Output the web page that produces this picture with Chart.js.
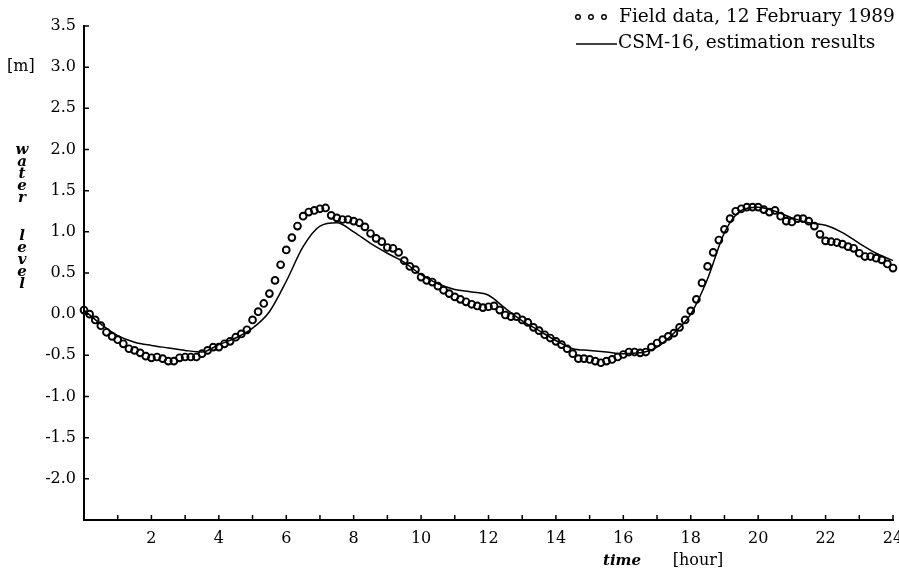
<!DOCTYPE html>
<html><head><meta charset="utf-8">
<script src="https://cdn.jsdelivr.net/npm/chart.js@4/dist/chart.umd.min.js"></script>
<style>html,body{margin:0;padding:0;background:#fff;}#wrap{width:899px;height:573px;}</style>
</head><body><div id="wrap"><canvas id="c" width="899" height="573"></canvas></div>
<script>
// Field data sampled every 10 minutes from 0 h to 24 h
const fieldStartHour = 0;
const fieldStepHours = 1 / 6;
const fieldLevels = [
  0.05, 0.00, -0.07, -0.14, -0.22, -0.27, -0.31, -0.36, -0.42, -0.44, -0.47, -0.51,
  -0.53, -0.52, -0.54, -0.57, -0.57, -0.53, -0.52, -0.52, -0.52, -0.48, -0.44, -0.40,
  -0.40, -0.36, -0.33, -0.28, -0.24, -0.19, -0.07, 0.03, 0.13, 0.25, 0.41, 0.60,
  0.78, 0.93, 1.07, 1.19, 1.24, 1.26, 1.28, 1.29, 1.20, 1.17, 1.15, 1.15,
  1.13, 1.11, 1.06, 0.98, 0.92, 0.88, 0.81, 0.80, 0.75, 0.65, 0.58, 0.54,
  0.45, 0.41, 0.39, 0.34, 0.29, 0.25, 0.21, 0.18, 0.15, 0.12, 0.10, 0.08,
  0.09, 0.10, 0.05, -0.01, -0.03, -0.03, -0.07, -0.10, -0.16, -0.20, -0.25, -0.29,
  -0.33, -0.37, -0.42, -0.48, -0.54, -0.54, -0.55, -0.57, -0.59, -0.57, -0.55, -0.52,
  -0.49, -0.46, -0.46, -0.47, -0.46, -0.40, -0.35, -0.31, -0.27, -0.23, -0.16, -0.07,
  0.04, 0.18, 0.38, 0.58, 0.75, 0.90, 1.03, 1.16, 1.25, 1.28, 1.30, 1.30,
  1.30, 1.27, 1.24, 1.26, 1.19, 1.13, 1.12, 1.16, 1.16, 1.13, 1.07, 0.97,
  0.89, 0.88, 0.87, 0.85, 0.82, 0.80, 0.74, 0.70, 0.70, 0.68, 0.66, 0.61,
  0.56
];
// CSM-16 estimation results
const modelHours = [0,0.5,1,1.5,2,2.5,3,3.5,4,4.5,5,5.5,6,6.5,7,7.5,8,8.5,9,9.5,10,10.5,11,11.5,12,
  12.5,13,13.5,14,14.5,15,15.5,16,16.5,17,17.5,18,18.5,19,19.5,20,20.5,21,21.5,22,22.5,23,23.5,24];
const modelLevels = [0.05,-0.12,-0.26,-0.34,-0.38,-0.41,-0.44,-0.46,-0.37,-0.29,-0.17,0.03,0.40,0.82,1.07,1.11,
  1.00,0.86,0.74,0.63,0.48,0.37,0.30,0.27,0.23,0.07,-0.08,-0.20,-0.32,-0.42,-0.44,-0.46,-0.48,-0.47,
  -0.40,-0.23,0.00,0.43,0.99,1.26,1.30,1.25,1.17,1.11,1.08,0.99,0.86,0.74,0.65];
const xTickHours = [1,2,3,4,5,6,7,8,9,10,11,12,13,14,15,16,17,18,19,20,21,22,23,24];
const yTickLevels = [-2.0,-1.5,-1.0,-0.5,0.0,0.5,1.0,1.5,2.0,2.5,3.0,3.5];
const legendLabels = ['Field data, 12 February 1989', 'CSM-16, estimation results'];

const SERIF = '"DejaVu Serif", serif';

const decorPlugin = {
  id: 'decor',
  afterDraw(chart) {
    const ctx = chart.ctx, a = chart.chartArea;
    const xs = chart.scales.x, ys = chart.scales.y;
    ctx.save();
    ctx.strokeStyle = '#000';
    ctx.lineWidth = 1.5;
    ctx.beginPath();
    xTickHours.forEach(h => { const px = xs.getPixelForValue(h); ctx.moveTo(px, a.bottom); ctx.lineTo(px, a.bottom - 5); });
    yTickLevels.forEach(v => { const py = ys.getPixelForValue(v); ctx.moveTo(a.left, py); ctx.lineTo(a.left + 5, py); });
    ctx.stroke();

    ctx.fillStyle = '#000';
    ctx.textBaseline = 'middle';
    // [m]
    ctx.font = '16px ' + SERIF;
    ctx.textAlign = 'left';
    ctx.fillText('[m]', 7, ys.getPixelForValue(3.0));
    // water level, stacked
    ctx.font = 'italic bold 15px ' + SERIF;
    ctx.textAlign = 'center';
    const word1 = 'water', word2 = 'level';
    for (let i = 0; i < word1.length; i++) ctx.fillText(word1[i], 22, 150 + i * 12);
    for (let i = 0; i < word2.length; i++) ctx.fillText(word2[i], 22, 236 + i * 12);
    // x title
    ctx.font = 'italic bold 15px ' + SERIF;
    ctx.fillText('time', 622, 561);
    ctx.font = '16px ' + SERIF;
    ctx.fillText('[hour]', 698, 561);

    // legend
    ctx.textAlign = 'left';
    ctx.font = '18.6px ' + SERIF;
    ctx.lineWidth = 1.4;
    [578, 591, 604].forEach(cx => { ctx.beginPath(); ctx.arc(cx, 17, 2.3, 0, Math.PI * 2); ctx.stroke(); });
    ctx.fillText(legendLabels[0], 619, 17);
    ctx.lineWidth = 1.7;
    ctx.beginPath(); ctx.moveTo(576, 44); ctx.lineTo(617, 44); ctx.stroke();
    ctx.fillText(legendLabels[1], 618, 43);
    ctx.restore();
  }
};

new Chart(document.getElementById('c'), {
  type: 'line',
  data: {
    datasets: [
      {
        label: legendLabels[0],
        data: fieldLevels.map((v, i) => ({ x: fieldStartHour + i * fieldStepHours, y: v })),
        showLine: false,
        pointStyle: 'circle',
        pointRadius: 3.4,
        pointBorderWidth: 1.9,
        borderColor: '#000',
        pointBorderColor: '#000',
        pointBackgroundColor: 'rgba(255,255,255,0)',
        clip: false,
        order: 1
      },
      {
        label: legendLabels[1],
        data: modelHours.map((h, i) => ({ x: h, y: modelLevels[i] })),
        borderColor: '#000',
        borderWidth: 1.5,
        pointRadius: 0,
        cubicInterpolationMode: 'monotone',
        fill: false,
        clip: false,
        order: 2
      }
    ]
  },
  options: {
    responsive: false,
    animation: false,
    devicePixelRatio: 1,
    layout: { padding: { top: 26, right: 6, left: 0, bottom: 0 } },
    plugins: { legend: { display: false }, tooltip: { enabled: false } },
    scales: {
      x: {
        type: 'linear', min: 0, max: 24,
        grid: { display: true, drawOnChartArea: false, drawTicks: false, tickLength: 0 },
        border: { display: true, color: '#000', width: 2 },
        ticks: {
          stepSize: 1, autoSkip: false, maxRotation: 0, padding: 9, color: '#000',
          font: { family: SERIF, size: 16 },
          callback: v => (v > 0 && v % 2 === 0) ? String(v) : ''
        },
        afterFit: s => { s.height = 53; s.paddingLeft = 0; s.paddingRight = 0; }
      },
      y: {
        min: -2.5, max: 3.5,
        grid: { display: true, drawOnChartArea: false, drawTicks: false, tickLength: 0 },
        border: { display: true, color: '#000', width: 2 },
        ticks: {
          stepSize: 0.5, autoSkip: false, padding: 8, color: '#000',
          font: { family: SERIF, size: 16 },
          callback: v => (Math.abs(v + 2.5) < 1e-9) ? '' : Number(v).toFixed(1)
        },
        afterFit: s => { s.width = 84; }
      }
    }
  },
  plugins: [decorPlugin]
});
</script></body></html>
